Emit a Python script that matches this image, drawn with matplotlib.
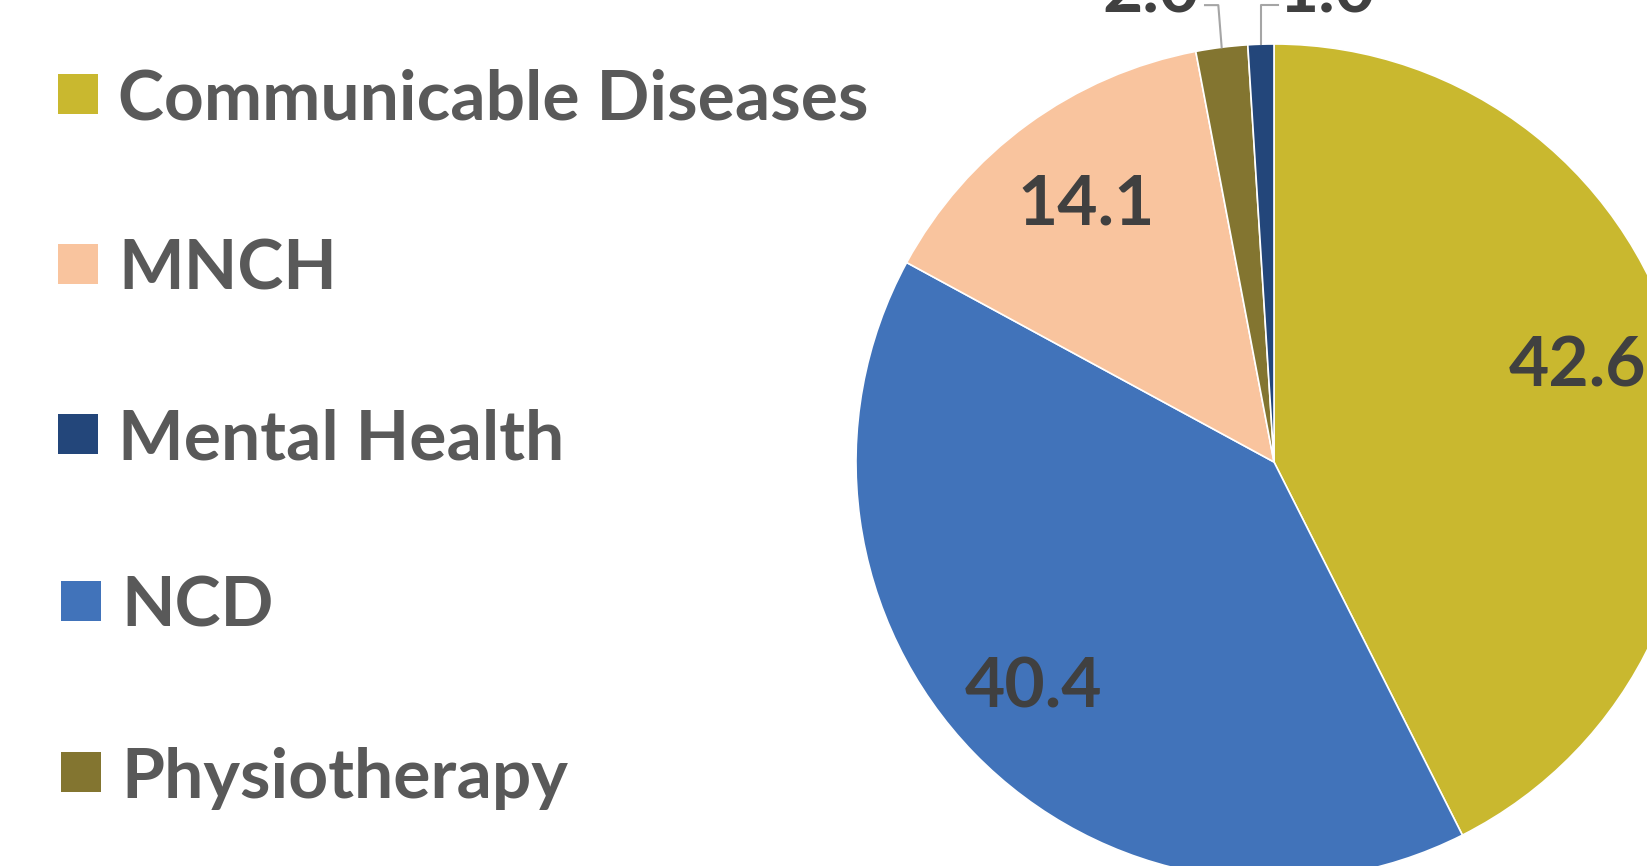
import numpy as np
import matplotlib
matplotlib.use("Agg")
import matplotlib.pyplot as plt
from matplotlib.patches import Rectangle

# legend order
legend_labels = ["Communicable Diseases", "MNCH", "Mental Health", "NCD", "Physiotherapy"]
legend_colors = ["#C9B82F", "#F9C49E", "#23467A", "#4173BA", "#837530"]

# pie order, clockwise from 12 o'clock
pie_labels = ["Communicable Diseases", "NCD", "MNCH", "Physiotherapy", "Mental Health"]
pie_values = [42.6, 40.4, 14.1, 2.0, 1.0]
pie_text = ["42.6", "40.4", "14.1", "2.0", "1.0"]

color_of = dict(zip(legend_labels, legend_colors))

W, H = 1647, 866
fig = plt.figure(figsize=(W / 100, H / 100), dpi=100)
fig.patch.set_facecolor("white")

# pie centre (1274, 462) px, radius 418 px
cx, cy, R = 1274, 462, 418
ax = fig.add_axes([(cx - R) / W, (H - cy - R) / H, 2 * R / W, 2 * R / H])
wedges, _ = ax.pie(pie_values, colors=[color_of[l] for l in pie_labels],
                   startangle=90, counterclock=False, radius=1,
                   wedgeprops=dict(edgecolor="white", linewidth=1.2))
ax.set_xlim(-1, 1)
ax.set_ylim(-1, 1)
ax.set_aspect("auto")
ax.axis("off")

font = dict(family=["Lato", "DejaVu Sans"], fontweight="bold")
lab_col = "#404040"
fs = 50

# inside labels
inside = {0: (0.76, -4), 1: (0.79, 1), 2: (0.76, 0)}
total = sum(pie_values)
cum = np.cumsum([0] + pie_values)
for i, (r, dang) in inside.items():
    mid = (cum[i] + cum[i + 1]) / 2 / total * 360 + dang
    x, y = r * np.sin(np.radians(mid)), r * np.cos(np.radians(mid))
    ax.text(x, y, pie_text[i], ha="center", va="center", fontsize=fs,
            color=lab_col, **font)

# outside labels for small slices, with leader lines (cut by the top edge as in the original)
outside = {3: (-0.165, -0.294), 4: (0.010, 0.127)}
y_top = 1.093
for i, (x_end, x_txt) in outside.items():
    mid = (cum[i] + cum[i + 1]) / 2 / total * 360
    x0, y0 = np.sin(np.radians(mid)), np.cos(np.radians(mid))
    ax.plot([x0, x0 - 0.008 if i == 3 else x0, x_end],
            [y0, y_top, y_top], color="#A5A5A5", lw=1.5, clip_on=False)
    ax.text(x_txt, 1.075, pie_text[i], ha="center", va="baseline", fontsize=fs,
            color=lab_col, clip_on=False, **font)

# legend
leg_y = [94, 264, 434, 601, 772]
leg_x = [58, 58, 58, 61, 61]
sz = 40
for lab, col, y, x in zip(legend_labels, legend_colors, leg_y, leg_x):
    fig.patches.append(Rectangle((x / W, (H - y - sz / 2) / H), sz / W, sz / H,
                                 transform=fig.transFigure, facecolor=col,
                                 edgecolor="none"))
    fig.text((x + 60) / W, (H - y) / H, lab, ha="left", va="center_baseline",
             fontsize=fs, color="#595959", **font)

fig.savefig("out.png", dpi=100)
